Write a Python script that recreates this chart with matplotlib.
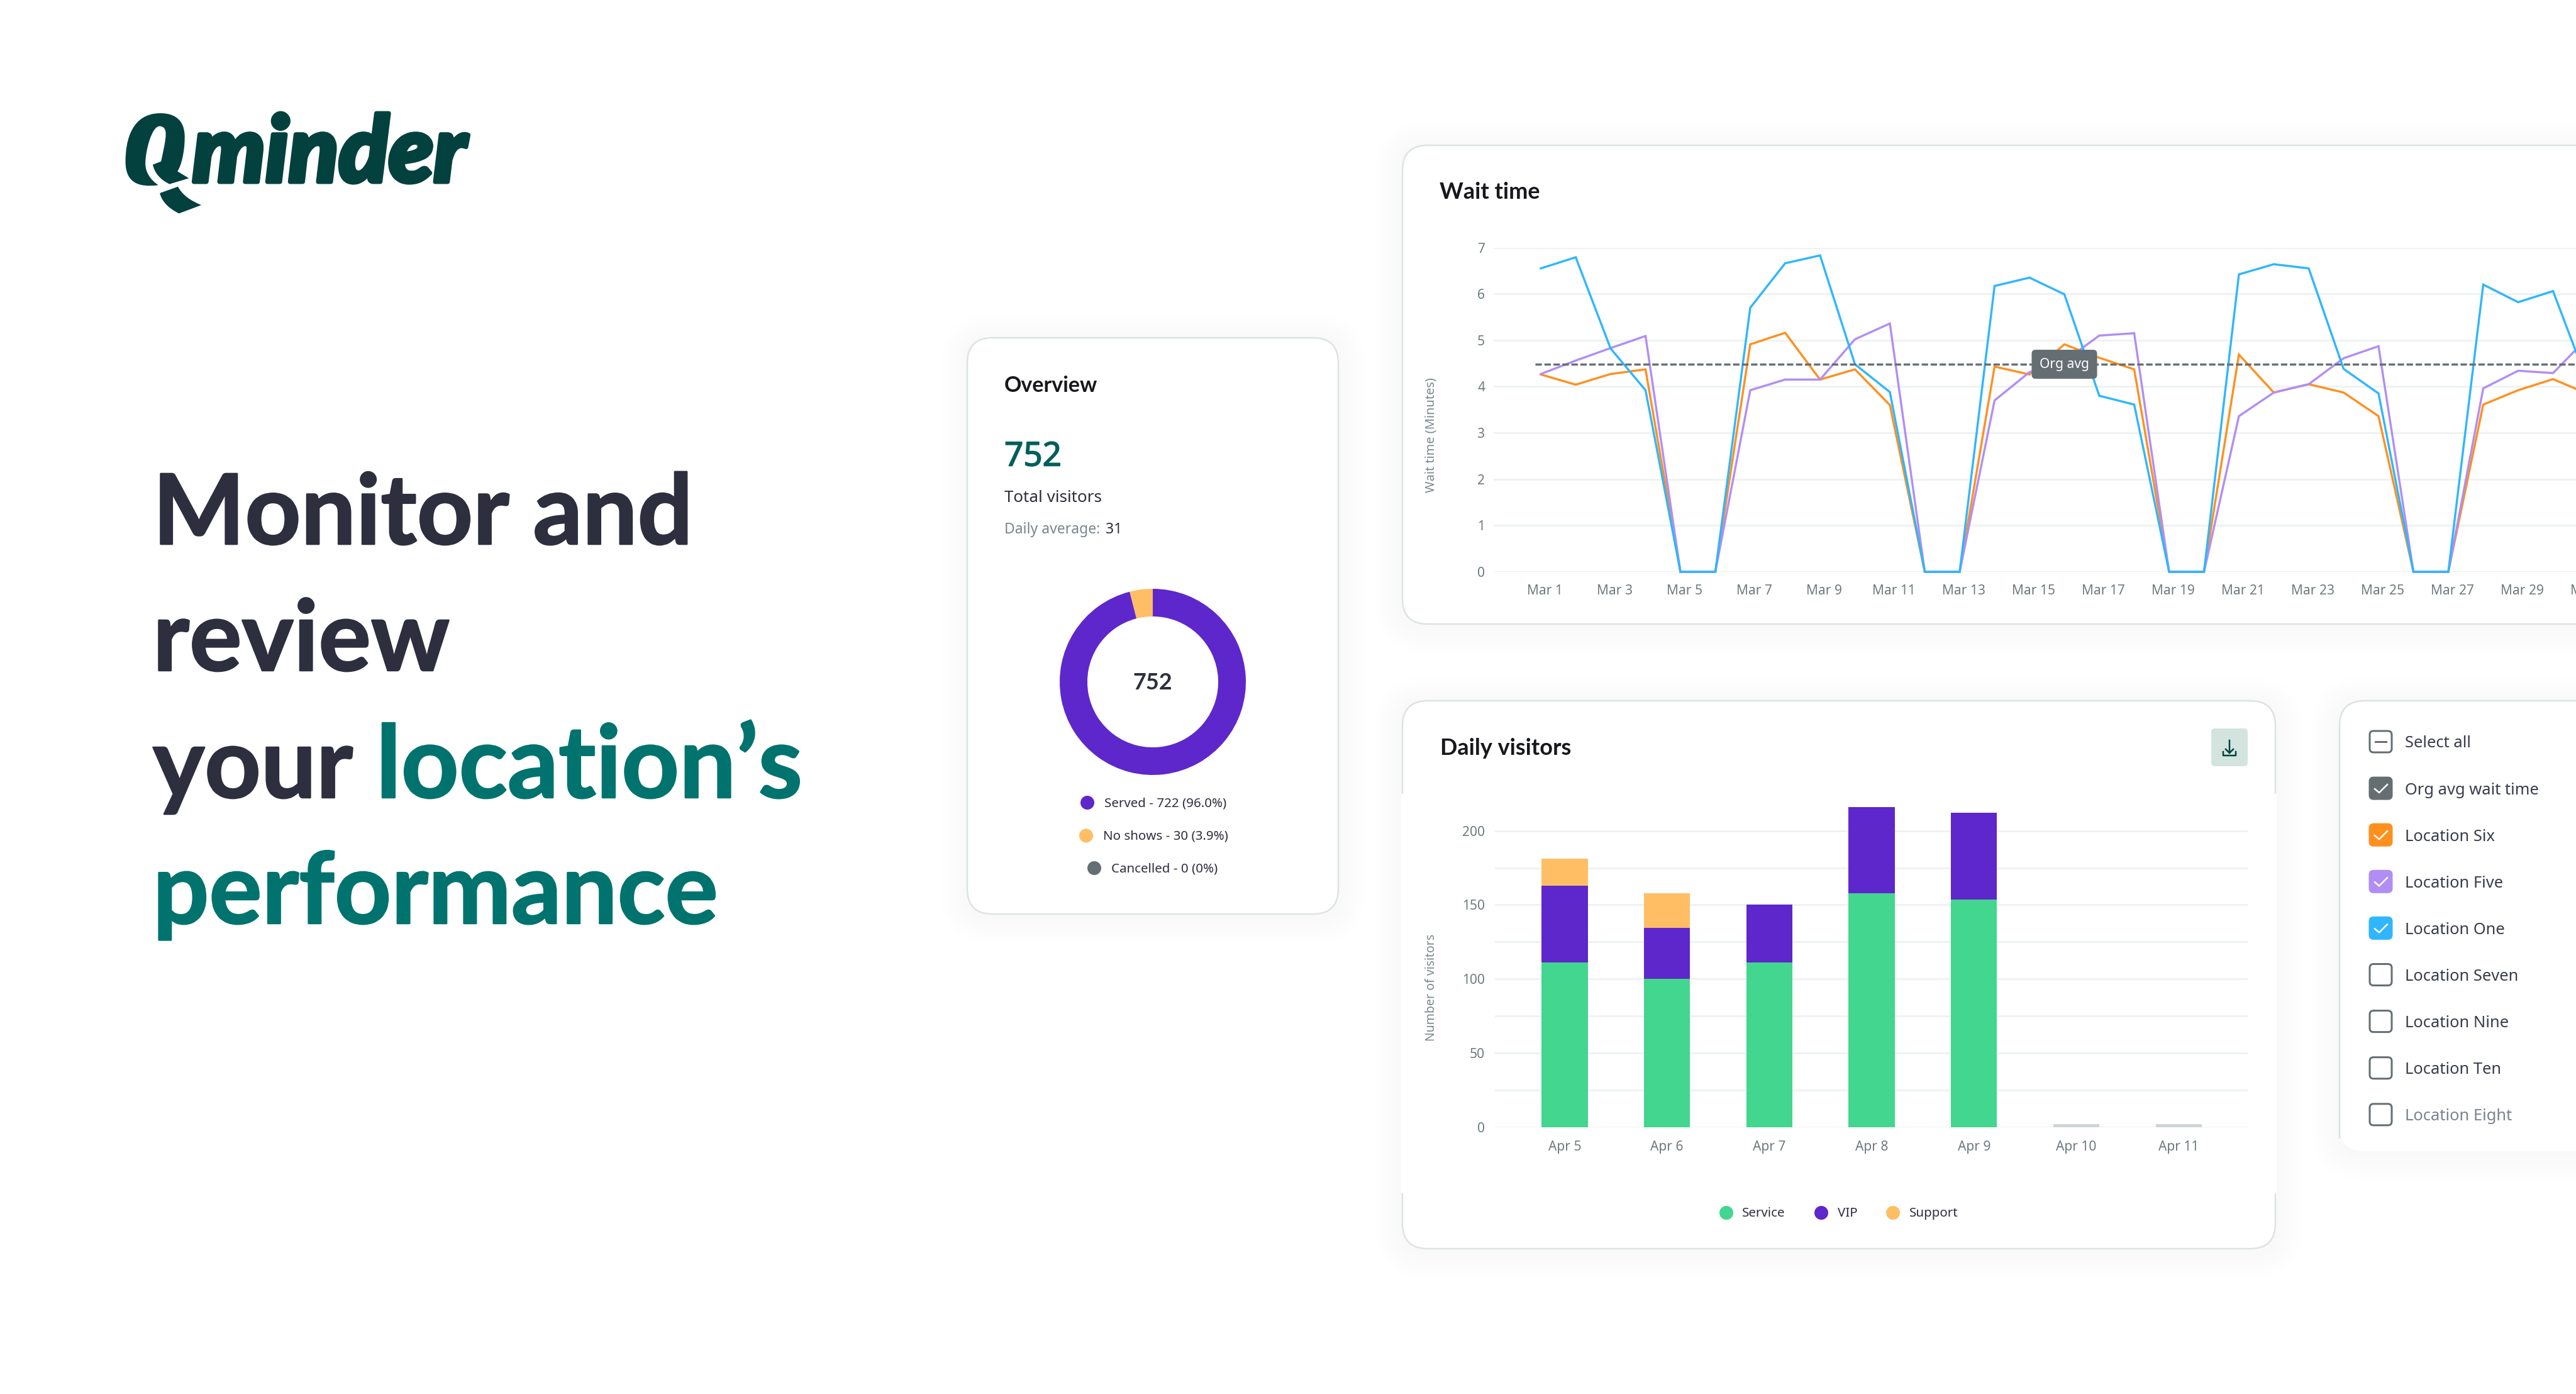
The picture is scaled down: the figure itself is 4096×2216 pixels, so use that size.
import matplotlib
matplotlib.use('Agg')
import matplotlib.pyplot as plt
import matplotlib.patheffects as pe
from matplotlib.patches import FancyBboxPatch, PathPatch, Rectangle, Circle
from matplotlib.path import Path

W, H = 4096, 2216

# wait time chart
days = [f'Mar {i}' for i in range(1, 32)]
location_one = [6.55, 6.79, 4.82, 3.92, 0, 0, 5.70, 6.66, 6.83, 4.48, 3.88, 0, 0, 6.17, 6.35, 5.99,
                3.80, 3.61, 0, 0, 6.42, 6.64, 6.55, 4.38, 3.85, 0, 0, 6.20, 5.82, 6.06, 4.07]
location_six = [4.26, 4.04, 4.27, 4.37, 0, 0, 4.91, 5.16, 4.15, 4.37, 3.60, 0, 0, 4.43, 4.26, 4.91,
                4.62, 4.37, 0, 0, 4.69, 3.87, 4.05, 3.87, 3.36, 0, 0, 3.61, 3.92, 4.16, 3.84]
location_five = [4.27, 4.56, 4.83, 5.09, 0, 0, 3.92, 4.15, 4.15, 5.02, 5.36, 0, 0, 3.70, 4.31, 4.55,
                 5.10, 5.15, 0, 0, 3.36, 3.87, 4.05, 4.61, 4.87, 0, 0, 3.96, 4.34, 4.29, 5.06]
org_avg = 4.48

# daily visitors chart
visit_days = ['Apr 5', 'Apr 6', 'Apr 7', 'Apr 8', 'Apr 9', 'Apr 10', 'Apr 11']
service = [111, 100, 111, 158, 153.5, 0, 0]
vip = [52, 34.5, 39, 58, 58.5, 0, 0]
support = [18, 23.5, 0, 0, 0, 0, 0]
no_data = [0, 0, 0, 0, 0, 2, 2]

# overview donut
overview_values = [722, 30, 0]
overview_labels = ['Served - 722 (96.0%)', 'No shows - 30 (3.9%)', 'Cancelled - 0 (0%)']

# location picker
picker_labels = ['Select all', 'Org avg wait time', 'Location Six', 'Location Five', 'Location One',
                 'Location Seven', 'Location Nine', 'Location Ten', 'Location Eight']
picker_states = ['dash', '#656f73', '#ff9020', '#b18ef5', '#2fb6ff', None, None, None, None]

BLUE, ORANGE, LILAC = '#2fb6ff', '#ff9020', '#b18ef5'
GREEN, VIOLET, AMBER = '#43d68e', '#5e27cc', '#ffbe64'
GREY = '#656f73'
INK = '#2d2e3e'
TEAL = '#00736f'
LOGO = '#03413f'
TICK = '#6f7a7e'
GRID = '#eef2f2'
EDGE = '#dde3e5'

plt.rcParams['font.family'] = ['Noto Sans', 'DejaVu Sans']


def fs(pixels):
    return pixels * 0.72


def px_axes(left, top, right, bottom, z=1):
    ax = fig.add_axes([left / W, 1 - bottom / H, (right - left) / W, (bottom - top) / H], zorder=z)
    ax.patch.set_visible(False)
    return ax


def card(x0, y0, x1, y1, radius=40, edge=True):
    # each layer darkens by one 8 bit step, so only a few are needed
    for i in range(6, 0, -1):
        grow = i * 7
        bg.add_patch(FancyBboxPatch((x0 - grow, y0 - grow + 4), x1 - x0 + 2 * grow, y1 - y0 + 2 * grow,
                                    boxstyle=f'round,pad=0,rounding_size={radius + grow}',
                                    fc='#30444a', ec='none', alpha=0.0035))
    bg.add_patch(FancyBboxPatch((x0, y0), x1 - x0, y1 - y0, boxstyle=f'round,pad=0,rounding_size={radius}',
                                fc='white', ec=EDGE if edge else 'none', lw=fs(2.5)))


def style_chart(ax):
    for s in ax.spines.values():
        s.set_visible(False)
    ax.tick_params(which='both', length=0, labelsize=fs(21), labelcolor=TICK)
    ax.grid(axis='y', which='both', color=GRID, lw=fs(3))
    ax.set_axisbelow(True)


def thick(pixels, colour):
    return [pe.withStroke(linewidth=fs(pixels), foreground=colour)]


fig = plt.figure(figsize=(W / 100, H / 100), dpi=100, facecolor='white')
bg = px_axes(0, 0, W, H, z=0)
bg.set_xlim(0, W)
bg.set_ylim(H, 0)
bg.axis('off')

# logo
zoom_x = lambda v: 160 + v / 2.529
zoom_y = lambda v: 140 + v / 3
C3, C4, L, M, E = Path.CURVE3, Path.CURVE4, Path.LINETO, Path.MOVETO, Path.CLOSEPOLY
q_shape = [((232, 463), M), ((150, 475), C4), ((100, 450), C4), ((100, 350), C4), ((100, 250), C4),
           ((125, 120), C4), ((240, 120), C4), ((320, 120), C4), ((340, 180), C4), ((338, 240), C4),
           ((338, 300), C4), ((325, 370), C4), ((309, 397), C4), ((355, 430), L), ((277, 458), L),
           ((220, 425), C3), ((210, 365), C3), ((243, 350), L), ((252, 300), C4), ((262, 250), C4),
           ((262, 220), C4), ((262, 190), C4), ((250, 182), C4), ((237, 182), C4), ((205, 182), C4),
           ((180, 300), C4), ((180, 360), C4), ((180, 420), C3), ((232, 463), C3), ((232, 463), E),
           ((238, 501), M), ((311, 470), L), ((335, 525), C3), ((405, 558), C3), ((315, 598), L),
           ((250, 560), C3), ((238, 501), C3), ((238, 501), E)]
bg.add_patch(PathPatch(Path([(zoom_x(p[0]), zoom_y(p[1])) for p, _ in q_shape], [c for _, c in q_shape]),
                       fc=LOGO, ec='none'))
bg.text(306, 289, 'minder', family='Lato', weight=900, style='italic', fontsize=fs(146), color=LOGO, va='baseline',
        path_effects=thick(7, LOGO))

# headline
head = dict(family='Lato', weight='bold', va='baseline')
bg.text(243, 865, 'Monitor and', color=INK, fontsize=fs(155), path_effects=thick(2.5, INK), **head)
bg.text(243, 1066, 'review', color=INK, fontsize=fs(156), path_effects=thick(2.5, INK), **head)
bg.text(243, 1268, 'your', color=INK, fontsize=fs(156), path_effects=thick(2.5, INK), **head)
bg.text(598, 1268, 'location’s', color=TEAL, fontsize=fs(160), path_effects=thick(2.5, TEAL), **head)
bg.text(243, 1468, 'performance', color=TEAL, fontsize=fs(157.5), path_effects=thick(2.5, TEAL), **head)

title = dict(family='Lato', weight='bold', color='#17181c', va='center')

# overview card
card(1538, 537, 2128, 1453)
bg.text(1597, 613, 'Overview', fontsize=fs(34), **title)
bg.text(1597, 727, '752', fontsize=fs(53), color='#005f5a', va='center', path_effects=thick(1.5, '#005f5a'))
bg.text(1597, 791, 'Total visitors', fontsize=fs(26), color=INK, va='center')
bg.text(1597, 842, 'Daily average:', fontsize=fs(23), color='#7b878b', va='center')
bg.text(1758, 842, '31', fontsize=fs(23), color=INK, va='center')

donut = px_axes(1685, 936, 1981, 1232)
donut.pie(overview_values, colors=[VIOLET, AMBER, GREY], startangle=90, counterclock=False, radius=1,
          wedgeprops=dict(width=0.297, lw=0))
donut.set_xlim(-1, 1)
donut.set_ylim(-1, 1)
donut.text(0, -0.01, '752', ha='center', va='center', fontsize=fs(36), family='Lato', weight='bold', color=INK)

for label, colour, cx, cy, tx in zip(overview_labels, [VIOLET, AMBER, GREY], [1729, 1727, 1740],
                                     [1276, 1328.5, 1380], [1756, 1754, 1767]):
    bg.add_patch(Circle((cx, cy), 11, fc=colour, ec='none'))
    bg.text(tx, cy + 1, label, fontsize=fs(20.5), color=INK, va='center')

# wait time card
card(2230, 231, 4300, 992)
bg.text(2289, 306, 'Wait time', fontsize=fs(36), **title)

wait = px_axes(2375, 393.5, 4200, 909)
wait.set_xlim(-75 / 55.5, (4200 - 2450) / 55.5)
wait.set_ylim(0, 7)
style_chart(wait)
x_days = list(range(len(days)))
for values, colour in [(location_six, ORANGE), (location_five, LILAC), (location_one, BLUE)]:
    wait.plot(x_days, values, color=colour, lw=fs(3.4), clip_on=False, solid_joinstyle='miter')
wait.plot([-0.17, x_days[-1]], [org_avg, org_avg], color=GREY, lw=fs(3.4), dashes=(3.0, 1.2))
wait.text(15, org_avg, 'Org avg', color='white', fontsize=fs(21), ha='center', va='center', zorder=5,
          bbox=dict(boxstyle='round,pad=0.6,rounding_size=0.3', fc=GREY, ec='none'))
wait.set_xticks([i + 0.11 for i in x_days[::2]], days[::2])
wait.set_yticks(range(8))
wait.tick_params(axis='x', pad=fs(20))
wait.tick_params(axis='y', pad=fs(14))
wait.set_ylabel('Wait time (Minutes)', fontsize=fs(20), color='#7d888c')
wait.yaxis.set_label_coords((2286 - 2375) / 1825, (909 - 692) / 515.5)

# daily visitors card
card(2230, 1114, 3618, 1985)
bg.add_patch(Rectangle((2228, 1262), 1392, 635, fc='white', ec='none'))
bg.text(2290, 1190, 'Daily visitors', fontsize=fs(36), **title)
bg.add_patch(FancyBboxPatch((3516, 1158), 58, 60, boxstyle='round,pad=0,rounding_size=6', fc='#d3e4de', ec='none'))
bg.plot([3545, 3545], [1177, 1197], color=LOGO, lw=fs(2.5))
bg.plot([3539, 3545, 3551], [1191, 1197, 1191], color=LOGO, lw=fs(2.5))
bg.plot([3535, 3535, 3555, 3555], [1195, 1201, 1201, 1195], color=LOGO, lw=fs(2.5))

daily = px_axes(2377, 1272, 3574, 1792)
daily.set_xlim((2377 - 2488) / 162.7, (3574 - 2488) / 162.7)
daily.set_ylim(0, 520 / 2.357)
style_chart(daily)
x_visits = range(len(visit_days))
base = [a + b for a, b in zip(service, vip)]
daily.bar(x_visits, service, width=0.45, color=GREEN)
daily.bar(x_visits, vip, width=0.45, bottom=service, color=VIOLET)
daily.bar(x_visits, support, width=0.45, bottom=base, color=AMBER)
daily.bar(x_visits, no_data, width=0.45, color='#ced5d6')
daily.set_xticks(list(x_visits), visit_days)
daily.set_yticks([0, 50, 100, 150, 200])
daily.set_yticks([25, 75, 125, 175], minor=True)
daily.tick_params(axis='x', pad=fs(21))
daily.tick_params(axis='y', pad=fs(16))
daily.set_ylabel('Number of visitors', fontsize=fs(19.5), color='#7d888c')
daily.yaxis.set_label_coords((2286 - 2377) / 1197, (1792 - 1570) / 520)

for label, colour, cx, tx in [('Service', GREEN, 2745, 2770), ('VIP', VIOLET, 2896, 2922), ('Support', AMBER, 3010, 3036)]:
    bg.add_patch(Circle((cx, 1928), 11, fc=colour, ec='none'))
    bg.text(tx, 1929, label, fontsize=fs(20.5), color=INK, va='center')

# location picker
card(3720, 1114, 4300, 1830, edge=False)
bg.add_patch(PathPatch(Path([(3720, 1810), (3720, 1154), (3720, 1114), (3760, 1114), (4100, 1114)], [M, L, C3, C3, L]),
                       fc='none', ec=EDGE, lw=fs(2.5)))
for i, (label, state) in enumerate(zip(picker_labels, picker_states)):
    cy = 1179 + i * 74.1
    faded = i == len(picker_labels) - 1
    filled = state not in (None, 'dash')
    bg.add_patch(FancyBboxPatch((3768, cy - 17), 35, 34, boxstyle='round,pad=0,rounding_size=6',
                                fc=state if filled else 'white', ec=state if filled else GREY,
                                lw=fs(3)))
    if state == 'dash':
        bg.plot([3777, 3794], [cy, cy], color=GREY, lw=fs(3))
    elif filled:
        bg.plot([3776, 3783, 3796], [cy + 1, cy + 7, cy - 6], color='white', lw=fs(2.5))
    bg.text(3824, cy + 3, label, fontsize=fs(25.5), color='#7d838f' if faded else '#3a3d4d', va='center')

fig.savefig('out.png', dpi=100)
